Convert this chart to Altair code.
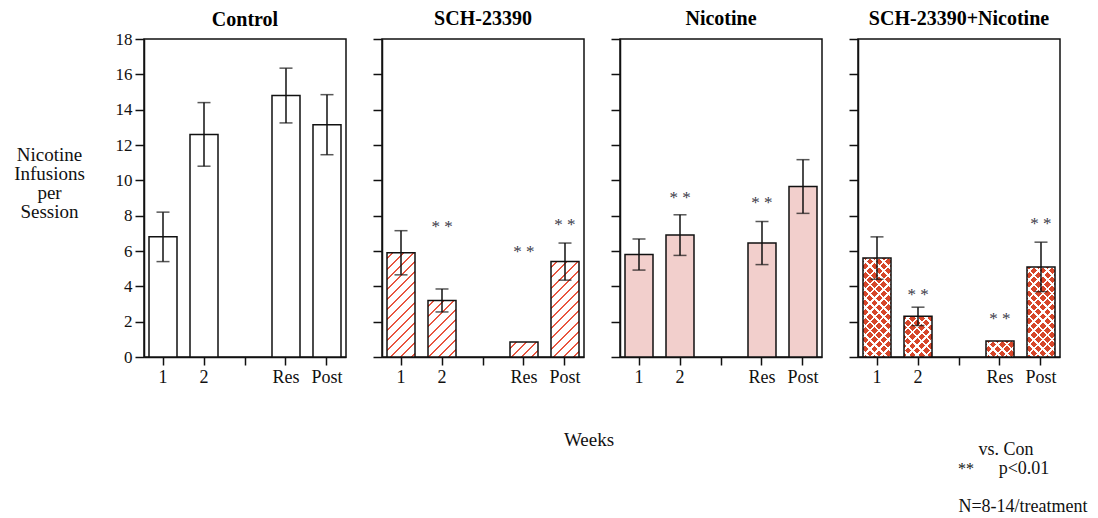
import math
import altair as alt
import pandas as pd

# ---------------- data ----------------
groups = ["Control", "SCH-23390", "Nicotine", "SCH-23390+Nicotine"]
weeks = ["1", "2", "Res", "Post"]
x_domain = ["1", "2", "gap", "Res", "Post"]

control_mean = [6.8, 12.6, 14.8, 13.15]
control_sem = [1.4, 1.8, 1.55, 1.7]
sch_mean = [5.9, 3.2, 0.85, 5.4]
sch_sem = [1.25, 0.65, 0.0, 1.05]
nic_mean = [5.8, 6.9, 6.45, 9.65]
nic_sem = [0.88, 1.15, 1.22, 1.52]
schnic_mean = [5.6, 2.3, 0.9, 5.1]
schnic_sem = [1.2, 0.52, 0.0, 1.4]

# y position of the "**" markers (None = no marker)
control_stars = [None, None, None, None]
sch_stars = [None, 7.65, 6.2, 7.75]
nic_stars = [None, 9.3, 9.0, None]
schnic_stars = [None, 3.8, 2.45, 7.8]

y_title = ["Nicotine", "Infusions", "per", "Session"]
x_title = "Weeks"
note_lines = ["vs. Con", "**", "p<0.01", "N=8-14/treatment"]

# ---------------- styling ----------------
FONT = "Liberation Serif"
W, H = 202, 318
YMAX = 18
P_IN, P_OUT = 0.317, 0.122
step = W / (len(x_domain) - P_IN + 2 * P_OUT)
bar_w = step * (1 - P_IN)

PINK = "#f2cfcc"
RED = "#d6462a"
HATCH = "#e8553f"
WHITE = "#ffffff"
CLEAR = "rgba(255,255,255,0)"


def stripes(value, period, lw, line_color, gap_color, rising=True):
    """Linear gradient drawing 45-degree stripes inside one bar."""
    h = max(value / YMAX * H, 1.0)
    w = bar_w
    L = (w + h) / math.sqrt(2)
    c = (1 / h + 1 / w) / (1 / h ** 2 + 1 / w ** 2)
    dx, dy = c / h, c / w
    if rising:
        x1, y1, x2, y2 = 0, 0, dx, dy
    else:
        x1, y1, x2, y2 = 0, 1, dx, 1 - dy
    stops = [{"offset": 0, "color": gap_color}]
    pos = period / 2
    while pos < L:
        a = round(pos / L, 5)
        b = round(min((pos + lw) / L, 1), 5)
        stops += [
            {"offset": a, "color": gap_color},
            {"offset": a, "color": line_color},
            {"offset": b, "color": line_color},
            {"offset": b, "color": gap_color},
        ]
        pos += period
    stops.append({"offset": 1, "color": gap_color})
    return {"gradient": "linear", "x1": x1, "y1": y1,
            "x2": round(x2, 5), "y2": round(y2, 5), "stops": stops}


def panel(name, means, sems, stars, fill, style=None, first=False, extra=None):
    df = pd.DataFrame({
        "week": weeks,
        "mean": means,
        "sem": sems,
        "lo": [m - s for m, s in zip(means, sems)],
        "hi": [m + s for m, s in zip(means, sems)],
    })
    yscale = alt.Scale(domain=[0, YMAX], nice=False, zero=True)
    x = alt.X(
        "week:N",
        sort=x_domain,
        scale=alt.Scale(domain=x_domain, paddingInner=P_IN, paddingOuter=P_OUT),
        axis=alt.Axis(
            title=None, labelAngle=0,
            labelExpr="datum.value === 'gap' ? '' : datum.value",
            tickSize=8, labelPadding=3, labelFontSize=18,
        ),
    )
    if first:
        yaxis = alt.Axis(
            values=list(range(0, YMAX + 1, 2)), labels=True, tickSize=9,
            labelFontSize=17, labelPadding=3,
            title=y_title, titleAngle=0, titleAlign="center",
            titleBaseline="middle", titleX=-95, titleY=115,
            titleFontSize=19, titleFontWeight="normal", titleLineHeight=19,
        )
    else:
        yaxis = alt.Axis(values=list(range(0, YMAX + 1, 2)), labels=False,
                         tickSize=9, title=None)

    def Y(field):
        return alt.Y(field + ":Q", scale=yscale, axis=yaxis)

    base = alt.Chart(df).encode(x=x)
    layers = [base.mark_bar(fill=fill).encode(y=Y("mean"))]
    for wk, m in zip(weeks, means):
        if style == "hatch":
            grads = [stripes(m, 7.2, 1.4, HATCH, WHITE, True)]
        elif style == "lattice":
            grads = [stripes(m, 6.5, 1.8, WHITE, CLEAR, True),
                     stripes(m, 6.5, 1.8, WHITE, CLEAR, False)]
        else:
            grads = []
        for g in grads:
            layers.append(
                base.transform_filter(alt.datum.week == wk)
                .mark_bar(fill=g)
                .encode(y=Y("mean"))
            )
    layers.append(
        base.mark_bar(fillOpacity=0, stroke="#111111", strokeWidth=1.5)
        .encode(y=Y("mean"))
    )
    err = base.transform_filter("datum.sem > 0")
    layers.append(
        err.mark_rule(color="#111111", strokeWidth=1.5).encode(y=Y("lo"), y2="hi:Q")
    )
    for col in ["lo", "hi"]:
        layers.append(
            err.mark_tick(color="#111111", size=13, thickness=1.5).encode(y=Y(col))
        )
    star_rows = [(wk, s) for wk, s in zip(weeks, stars) if s is not None]
    if star_rows:
        sdf = pd.DataFrame({"week": [r[0] for r in star_rows],
                            "star": [r[1] for r in star_rows]})
        layers.append(
            alt.Chart(sdf).mark_text(
                text="* *", font=FONT, fontSize=17, color="#3a3a48",
                baseline="alphabetic", dy=10,
            ).encode(x=x, y=Y("star"))
        )
    if extra:
        layers += extra
    # the first panel's "18" label already reaches above the plot, so its
    # title needs a smaller offset to sit level with the others
    return alt.layer(*layers).properties(
        width=W, height=H,
        title=alt.TitleParams(name, font=FONT, fontSize=20, fontWeight="bold",
                              offset=0 if first else 9, color="black",
                              anchor="middle", frame="group"),
    )


def label(text, xpx, ypx, size=18):
    return alt.Chart(pd.DataFrame({"t": [text]})).mark_text(
        font=FONT, fontSize=size, color="#111111", baseline="middle",
        align="center",
    ).encode(text="t:N", x=alt.value(xpx), y=alt.value(ypx))


weeks_label = [label(x_title, 207, 401, 19)]
notes = [
    label(note_lines[0], 148, 411, 18),
    label(note_lines[1], 108, 430, 16),
    label(note_lines[2], 166, 430, 18),
    label(note_lines[3], 165, 468, 18),
]

p1 = panel(groups[0], control_mean, control_sem, control_stars, WHITE, first=True)
p2 = panel(groups[1], sch_mean, sch_sem, sch_stars, WHITE, style="hatch",
           extra=weeks_label)
p3 = panel(groups[2], nic_mean, nic_sem, nic_stars, PINK)
p4 = panel(groups[3], schnic_mean, schnic_sem, schnic_stars, RED,
           style="lattice", extra=notes)

chart = (
    alt.hconcat(p1, p2, p3, p4, spacing=36, bounds="flush")
    .properties(padding={"left": 12, "top": 8, "right": 5, "bottom": 5},
                background="white")
    .configure_view(stroke="#111111", strokeWidth=1.5)
    .configure_axis(
        grid=False, domainColor="#111111", domainWidth=1.5,
        tickColor="#111111", tickWidth=1.5, labelColor="#111111",
        titleColor="#111111", labelFont=FONT, titleFont=FONT,
    )
)

chart.save("out.html", embed_options={"renderer": "svg", "actions": False})
